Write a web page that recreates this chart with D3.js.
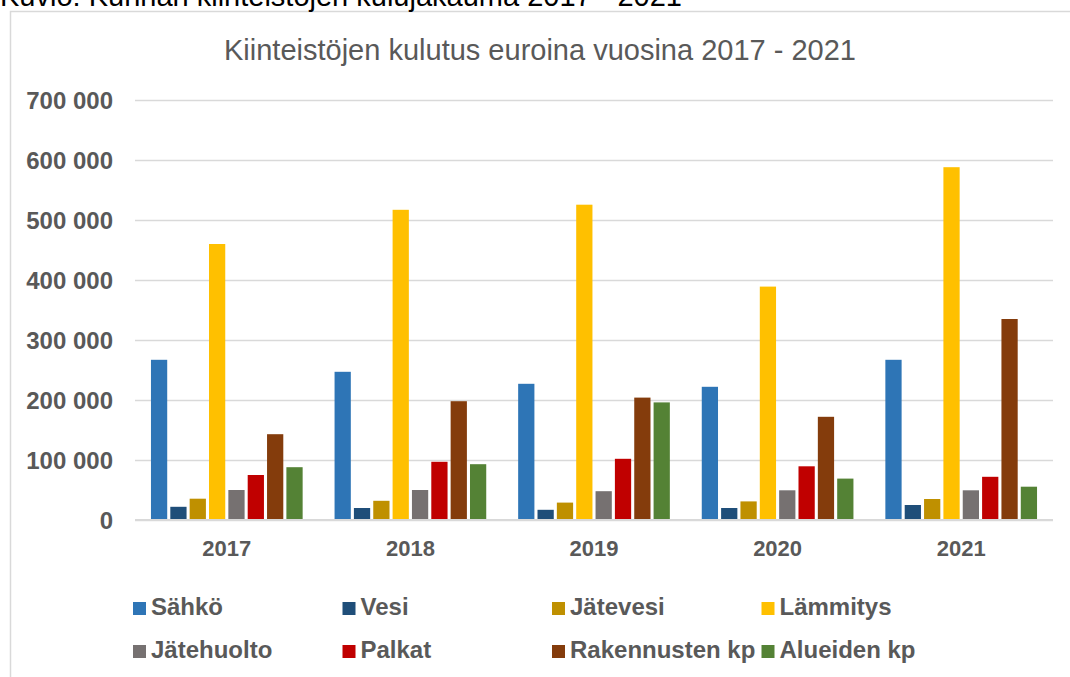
<!DOCTYPE html>
<html>
<head>
<meta charset="utf-8">
<script src="https://cdn.jsdelivr.net/npm/d3@7"></script>
<style>
  body { margin: 0; background: #fff; }
  svg { display: block; font-family: "Liberation Sans", Arial, sans-serif; }
</style>
</head>
<body>
<div id="Area"></div>
<script>
let years = ["2017", "2018", "2019", "2020", "2021"];
let seriesNames = ["Sähkö", "Vesi", "Jätevesi", "Lämmitys", "Jätehuolto", "Palkat", "Rakennusten kp", "Alueiden kp"];
let seriesColors = ["#2e75b6", "#1f4e79", "#bf9000", "#ffc000", "#767171", "#c00000", "#843c0c", "#548235"];

let sahko = [267000, 247000, 227000, 222000, 267000];
let vesi = [22000, 20000, 17000, 20000, 25000];
let jatevesi = [35500, 32000, 29000, 31000, 35000];
let lammitys = [460000, 517000, 525500, 389000, 588000];
let jatehuolto = [50000, 50000, 48000, 49500, 49500];
let palkat = [75000, 97000, 102000, 89500, 72000];
let rakennusten = [143000, 198000, 204000, 172000, 335000];
let alueiden = [88000, 93000, 196000, 69000, 55500];

let yTicks = [0, 100000, 200000, 300000, 400000, 500000, 600000, 700000];

let seriesValues = [sahko, vesi, jatevesi, lammitys, jatehuolto, palkat, rakennusten, alueiden];

drawGraph();

function drawGraph() {
    var width = 1070, height = 677;
    var plot = {left: 135, right: 1053, top: 100, bottom: 520};

    var svg = d3.select("#Area")
        .append("svg")
        .attr("width", width)
        .attr("height", height);

    // chart frame (right and bottom edges are outside the picture)
    svg.append("rect")
        .attr("x", 10.5).attr("y", 11.5)
        .attr("width", 1100).attr("height", 700)
        .attr("fill", "#fff")
        .attr("stroke", "#d9d9d9")
        .attr("stroke-width", 1.5);

    // caption above the frame, cut off at the top like in the source
    svg.append("text")
        .attr("x", 0).attr("y", 6)
        .attr("font-size", 29)
        .attr("fill", "#000")
        .text("Kuvio: Kunnan kiinteistöjen kulujakauma 2017 - 2021");

    svg.append("text")
        .attr("x", 540).attr("y", 60)
        .attr("text-anchor", "middle")
        .attr("font-size", 29)
        .attr("fill", "#595959")
        .text("Kiinteistöjen kulutus euroina vuosina 2017 - 2021");

    var y = d3.scaleLinear()
        .domain([0, 700000])
        .range([plot.bottom, plot.top]);

    var x0 = d3.scaleBand()
        .domain(years)
        .range([plot.left, plot.right])
        .paddingInner(0.157)
        .paddingOuter(0.0785);

    var x1 = d3.scaleBand()
        .domain(seriesNames)
        .range([0, x0.bandwidth()])
        .paddingInner(0.16)
        .paddingOuter(0.08);

    var fmt = d3.formatLocale({decimal: ",", thousands: " ", grouping: [3], currency: ["", " €"]}).format(",d");

    // gridlines + y labels
    var yAxis = svg.append("g")
        .attr("transform", "translate(" + plot.left + ",0)")
        .call(d3.axisLeft(y).tickValues(yTicks).tickSize(-(plot.right - plot.left)).tickPadding(22).tickFormat(fmt));
    yAxis.select(".domain").remove();
    yAxis.selectAll(".tick line")
        .attr("stroke", "#d9d9d9")
        .attr("stroke-width", 1.5);
    yAxis.selectAll(".tick text")
        .attr("font-family", "Liberation Sans, Arial, sans-serif")
        .attr("font-size", 24)
        .attr("font-weight", "bold")
        .attr("fill", "#595959")
        .attr("dy", "0.36em");

    // bars
    var groups = svg.append("g").selectAll("g")
        .data(years)
        .join("g")
        .attr("transform", d => "translate(" + x0(d) + ",0)");

    groups.selectAll("rect")
        .data((d, i) => seriesNames.map((s, j) => ({name: s, value: seriesValues[j][i], color: seriesColors[j]})))
        .join("rect")
        .attr("x", d => x1(d.name))
        .attr("width", x1.bandwidth())
        .attr("y", d => y(d.value))
        .attr("height", d => y(0) - y(d.value))
        .attr("fill", d => d.color);

    // zero line on top
    svg.append("line")
        .attr("x1", plot.left).attr("x2", plot.right)
        .attr("y1", y(0)).attr("y2", y(0))
        .attr("stroke", "#d9d9d9")
        .attr("stroke-width", 2);

    // x labels
    var xAxis = svg.append("g")
        .attr("transform", "translate(0," + plot.bottom + ")")
        .call(d3.axisBottom(x0).tickSize(0).tickPadding(20));
    xAxis.select(".domain").remove();
    xAxis.selectAll(".tick text")
        .attr("font-family", "Liberation Sans, Arial, sans-serif")
        .attr("font-size", 22)
        .attr("font-weight", "bold")
        .attr("fill", "#595959");

    // legend, 4 columns x 2 rows
    var legend = svg.append("g").selectAll("g")
        .data(seriesNames)
        .join("g")
        .attr("transform", (d, i) => "translate(" + (133 + (i % 4) * 209.5) + "," + (602 + Math.floor(i / 4) * 43) + ")");

    legend.append("rect")
        .attr("width", 13).attr("height", 13)
        .attr("fill", (d, i) => seriesColors[i]);

    legend.append("text")
        .attr("x", 18).attr("y", 13)
        .attr("font-size", 24)
        .attr("font-weight", "bold")
        .attr("fill", "#595959")
        .text(d => d);
}
</script>
</body>
</html>
